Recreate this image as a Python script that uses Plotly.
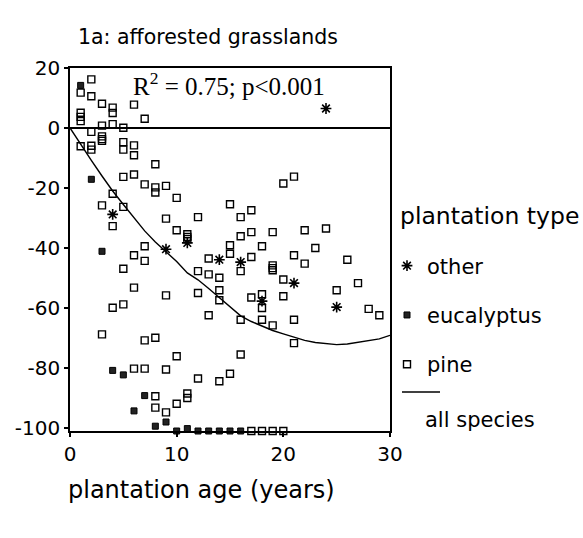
import plotly.graph_objects as go

# Plantation age (years) and change values per plantation type
pine_age = [1, 1, 1, 1, 1,
            2, 2, 2, 2, 2,
            3, 3, 3, 3, 3, 3, 3,
            4, 4, 4, 4, 4, 4,
            5, 5, 5, 5, 5, 5, 5,
            6, 6, 6, 6, 6, 6, 6,
            7, 7, 7, 7, 7, 7,
            8, 8, 8, 8, 8, 8,
            9, 9, 9, 9, 9,
            10, 10, 10, 10,
            11, 11, 11, 11, 11,
            12, 12, 12, 12,
            13, 13, 13,
            14, 14, 14, 14,
            15, 15, 15, 15,
            16, 16, 16, 16, 16,
            17, 17, 17, 17, 17,
            18, 18, 18, 18, 18,
            19, 19, 19, 19, 19, 19,
            20, 20, 20, 20,
            21, 21, 21, 21,
            22, 22,
            23, 24, 25, 26, 27, 28, 29]
pine_val = [11.8, 5.1, 3.7, 2.3, -6.1,
            16.2, 10.6, -1.3, -5.9, -7.2,
            8.1, 0.8, -2.8, -3.7, -4.3, -25.8, -68.8,
            6.8, 5.0, 1.3, -21.9, -32.7, -59.9,
            0.1, -4.7, -7.2, -16.3, -26.3, -46.9, -58.8,
            7.8, -5.8, -9.1, -15.5, -42.4, -53.2, -80.2,
            3.1, -18.8, -39.4, -44.3, -70.8, -80.2,
            -12.1, -19.8, -21.5, -69.9, -89.4, -93.2,
            -19.3, -30.2, -55.8, -80.5, -94.8,
            -23.3, -34.1, -76.1, -91.9,
            -35.4, -36.3, -37.0, -88.5, -90.0,
            -29.7, -47.7, -55.0, -83.5,
            -43.5, -48.8, -62.4,
            -49.9, -54.1, -57.4, -84.4,
            -25.4, -39.1, -41.9, -81.9,
            -29.7, -36.1, -47.7, -63.9, -75.5,
            -27.4, -34.7, -43.0, -56.5, -101.0,
            -39.4, -55.4, -60.0, -63.9, -101.0,
            -34.7, -45.8, -46.7, -47.4, -65.8, -101.0,
            -18.5, -50.5, -56.1, -101.0,
            -16.2, -42.4, -63.9, -71.7,
            -34.1, -45.2,
            -40.0, -33.5, -54.1, -43.9, -51.7, -60.3, -62.4]

euc_age = [1, 2, 3, 4, 5, 6, 7, 8, 9, 10, 11, 12, 13, 14, 15, 16]
euc_val = [14.2, -17.1, -41.1, -80.8, -82.3, -94.3, -89.2, -99.4, -98.0,
           -101.0, -100.2, -101.0, -101.0, -101.0, -101.0, -101.0]

other_age = [4, 9, 11, 14, 16, 18, 21, 24, 25]
other_val = [-28.8, -40.4, -38.3, -43.9, -44.7, -57.7, -51.7, 6.5, -59.7]

# Fitted trend for all species
fit_age = list(range(0, 31))
fit_val = [0, -5.5, -10.8, -16.0, -21.0, -25.5, -30.0, -34.3, -38.0, -41.2,
           -44.5, -48.3, -50.6, -53.5, -56.5, -59.6, -62.6, -64.5, -66.1,
           -67.5, -68.6, -69.6, -70.8, -71.5, -71.9, -72.2, -72.0, -71.5,
           -71.0, -70.3, -69.1]

x_ticks = [0, 10, 20, 30]
y_ticks = [20, 0, -20, -40, -60, -80, -100]
y_tick_text = ["20", "0", "-20", "-40", "-60", "-80", "-100"]

SANS = "DejaVu Sans, Arial, sans-serif"

fig = go.Figure()

fig.add_trace(go.Scatter(
    x=fit_age, y=fit_val, mode="lines", name="all species",
    line=dict(color="black", width=1.4), showlegend=False,
    hoverinfo="skip"))

fig.add_trace(go.Scatter(
    x=other_age, y=other_val, mode="markers", name="other",
    legendgroup="other", cliponaxis=False,
    marker=dict(symbol="asterisk-open", size=9,
                line=dict(color="black", width=1.6), color="black")))

fig.add_trace(go.Scatter(
    x=euc_age, y=euc_val, mode="markers", name="eucalyptus",
    legendgroup="euc", cliponaxis=False,
    marker=dict(symbol="square", size=6, color="#222222",
                line=dict(color="black", width=1))))

fig.add_trace(go.Scatter(
    x=pine_age, y=pine_val, mode="markers", name="pine",
    legendgroup="pine", cliponaxis=False,
    marker=dict(symbol="square-open", size=7,
                line=dict(color="black", width=1.4), color="black")))

fig.update_layout(
    width=583, height=538,
    margin=dict(l=70, r=193, t=68, b=107),
    paper_bgcolor="white", plot_bgcolor="white",
    font=dict(family=SANS, color="black", size=20),
    title=dict(text="1a: afforested grasslands", font=dict(size=20.5),
               xref="container", x=78 / 583, xanchor="left",
               yref="container", y=1 - 37 / 538, yanchor="middle"),
    showlegend=True,
    legend=dict(
        font=dict(size=21),
        x=(387 - 70) / 320, xanchor="left", y=0.511, yanchor="top",
        bgcolor="rgba(0,0,0,0)", borderwidth=0,
        tracegroupgap=19, itemsizing="trace"),
    xaxis=dict(range=[0, 30], tickvals=x_ticks, showgrid=False,
               zeroline=False, showline=True, mirror=True,
               linecolor="black", linewidth=1.5,
               ticks="outside", ticklen=4, tickwidth=2, tickcolor="black"),
    yaxis=dict(range=[-101, 20], tickvals=y_ticks, ticktext=y_tick_text,
               showgrid=False,
               zeroline=True, zerolinecolor="black", zerolinewidth=1.5,
               showline=True, mirror=True,
               linecolor="black", linewidth=1.5,
               ticks="outside", ticklen=4, tickwidth=2, tickcolor="black"),
)

# x-axis title
fig.add_annotation(text="plantation age (years)", xref="paper", yref="paper",
                   x=-4 / 320, xanchor="left", y=(431 - 490) / 363,
                   yanchor="middle", showarrow=False, font=dict(size=24))

# legend heading
fig.add_annotation(text="plantation type", xref="paper", yref="paper",
                   x=(398 - 70) / 320, xanchor="left",
                   y=(431 - 216) / 363, yanchor="middle",
                   showarrow=False, font=dict(size=23.5))

# model fit statistics
fig.add_annotation(text="R<sup>2</sup> = 0.75; p<0.001", xref="paper",
                   yref="paper", x=0.497, y=0.957, xanchor="center",
                   yanchor="middle", showarrow=False,
                   font=dict(family="Liberation Serif, Times New Roman, serif",
                             size=25))

# key for the fitted line
fig.add_shape(type="line", xref="paper", yref="paper",
              x0=(402 - 70) / 320, x1=(440 - 70) / 320,
              y0=(431 - 392) / 363, y1=(431 - 392) / 363,
              line=dict(color="black", width=1.4))
fig.add_annotation(text="all species", xref="paper", yref="paper",
                   x=(423 - 70) / 320, xanchor="left",
                   y=(431 - 420) / 363, yanchor="middle",
                   showarrow=False, font=dict(size=21))

fig.write_html("out.html")
